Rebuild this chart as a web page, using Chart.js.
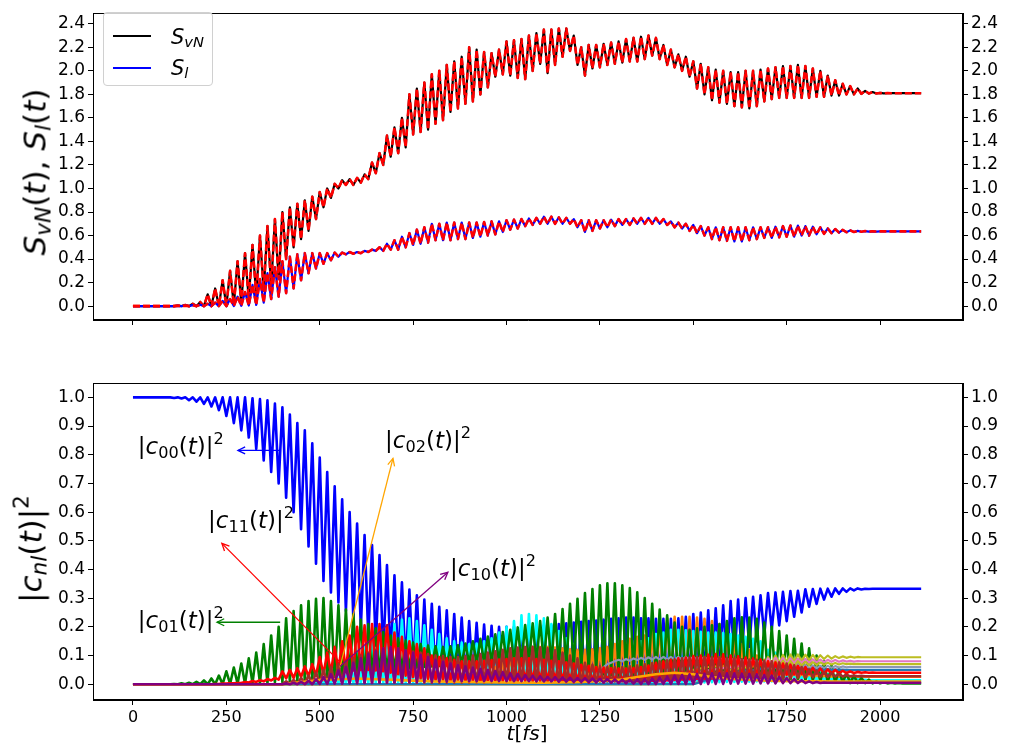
<!DOCTYPE html>
<html><head><meta charset="utf-8">
<script src="https://cdn.jsdelivr.net/npm/chart.js@4"></script>
<style>
body{margin:0;background:#fff;width:1009px;height:746px;overflow:hidden;position:relative;font-family:"DejaVu Sans";}
canvas{position:absolute;left:0;}
#c1{top:0;} #c2{top:340px;}
.tx{position:absolute;font-family:"DejaVu Sans";white-space:nowrap;line-height:1;color:#000;}
.tx sub{font-size:0.7em;vertical-align:-0.25em;line-height:0;}
.tx sup{font-size:0.7em;vertical-align:0.62em;line-height:0;}
.ytitle{font-size:31px;transform:translate(-50%,-50%) rotate(-90deg);}
.ann{font-size:23px;transform:translateY(-50%);}
#legend{position:absolute;left:103px;top:12px;width:108px;height:72px;border:1px solid #d0d0d0;border-radius:4px;background:rgba(255,255,255,0.8);}
.lg{position:absolute;left:9px;width:38px;height:2px;}
.lgt{position:absolute;left:67px;font-size:21px;transform:translateY(-50%);}
</style></head><body>
<canvas id="c1" width="1009" height="340"></canvas>
<canvas id="c2" width="1009" height="406"></canvas>
<div class="tx ytitle" style="left:35px;top:172px;"><i>S</i><sub><i>vN</i></sub>(<i>t</i>), <i>S</i><sub><i>l</i></sub>(<i>t</i>)</div>
<div class="tx ytitle" style="left:31px;top:549px;">|<i>c</i><sub><i>nl</i></sub>(<i>t</i>)|<sup>2</sup></div>
<div class="tx" style="left:527px;top:733px;font-size:20px;transform:translate(-50%,-50%);"><i>t</i>[<i>fs</i>]</div>
<div id="legend">
  <div class="lg" style="top:22px;background:#000;"></div>
  <div class="tx lgt" style="top:24px;"><i>S</i><sub><i>vN</i></sub></div>
  <div class="lg" style="top:54px;background:#0000ff;"></div>
  <div class="tx lgt" style="top:55px;"><i>S</i><sub><i>l</i></sub></div>
</div>
<div class="tx ann" id="a00">|<i>c</i><sub>00</sub>(<i>t</i>)|<sup>2</sup></div>
<div class="tx ann" id="a01">|<i>c</i><sub>01</sub>(<i>t</i>)|<sup>2</sup></div>
<div class="tx ann" id="a11">|<i>c</i><sub>11</sub>(<i>t</i>)|<sup>2</sup></div>
<div class="tx ann" id="a02">|<i>c</i><sub>02</sub>(<i>t</i>)|<sup>2</sup></div>
<div class="tx ann" id="a10">|<i>c</i><sub>10</sub>(<i>t</i>)|<sup>2</sup></div>
<script>
// ---------------- time grid (fs) ----------------
const T = [
0,10,20,30,40,50,60,70,80,90,
100,110,120,130,140,150,160,170,180,190,
200,210,220,230,240,250,260,270,280,290,
300,310,320,330,340,350,360,370,380,390,
400,410,420,430,440,450,460,470,480,490,
500,510,520,530,540,550,560,570,580,590,
600,610,620,630,640,650,660,670,680,690,
700,710,720,730,740,750,760,770,780,790,
800,810,820,830,840,850,860,870,880,890,
900,910,920,930,940,950,960,970,980,990,
1000,1010,1020,1030,1040,1050,1060,1070,1080,1090,
1100,1110,1120,1130,1140,1150,1160,1170,1180,1190,
1200,1210,1220,1230,1240,1250,1260,1270,1280,1290,
1300,1310,1320,1330,1340,1350,1360,1370,1380,1390,
1400,1410,1420,1430,1440,1450,1460,1470,1480,1490,
1500,1510,1520,1530,1540,1550,1560,1570,1580,1590,
1600,1610,1620,1630,1640,1650,1660,1670,1680,1690,
1700,1710,1720,1730,1740,1750,1760,1770,1780,1790,
1800,1810,1820,1830,1840,1850,1860,1870,1880,1890,
1900,1910,1920,1930,1940,1950,1960,1970,1980,1990,
2000,2010,2020,2030,2040,2050,2060,2070,2080,2090,
2100,2110];

const XTICKS = [0,250,500,750,1000,1250,1500,1750,2000];
const YTICKS_TOP = [0,0.2,0.4,0.6,0.8,1.0,1.2,1.4,1.6,1.8,2.0,2.2,2.4];
const YTICKS_BOT = [0,0.1,0.2,0.3,0.4,0.5,0.6,0.7,0.8,0.9,1.0];

// ---------------- top panel ----------------
const S_vN = [
0,0,0,0,0,0,0,0,0,0,
0,0,.005,0,.01,0,.02,0,.035,0,
.1,0,.15,0,.22,0,.3,.01,.38,.03,
.45,.06,.52,.09,.6,.13,.68,.17,.74,.23,
.8,.4,.84,.5,.87,.57,.9,.64,.93,.74,
.97,.84,1.0,.92,1.04,1.0,1.07,1.03,1.08,1.03,
1.09,1.05,1.12,1.08,1.22,1.13,1.3,1.2,1.45,1.27,
1.52,1.3,1.6,1.35,1.8,1.46,1.85,1.48,1.9,1.5,
1.97,1.55,2.0,1.58,2.05,1.65,2.08,1.68,2.12,1.72,
2.2,1.74,2.18,1.8,2.16,1.86,2.15,1.95,2.18,1.97,
2.25,1.96,2.26,1.94,2.27,1.93,2.3,2.0,2.32,2.06,
2.35,1.98,2.35,2.05,2.36,2.12,2.36,2.17,2.3,2.05,
2.2,1.96,2.22,2.02,2.22,2.03,2.23,2.05,2.24,2.06,
2.25,2.07,2.27,2.08,2.28,2.08,2.29,2.1,2.3,2.13,
2.28,2.1,2.22,2.05,2.18,2.03,2.14,2.0,2.12,1.95,
2.08,1.85,2.06,1.8,2.03,1.75,2.01,1.73,2.0,1.72,
1.99,1.7,1.99,1.69,2.0,1.68,2.0,1.7,2.01,1.74,
2.02,1.76,2.03,1.77,2.04,1.77,2.04,1.77,2.05,1.77,
2.04,1.77,2.02,1.78,2.0,1.78,1.96,1.79,1.92,1.79,
1.89,1.8,1.87,1.8,1.85,1.805,1.83,1.807,1.82,1.808,
1.812,1.809,1.811,1.81,1.81,1.81,1.81,1.81,1.81,1.81,
1.81,1.81];

const S_l = [
0,0,0,0,0,0,0,0,0,0,
0,0,.002,0,.004,0,.008,0,.012,0,
.02,0,.03,0,.045,0,.06,.001,.08,.003,
.12,.005,.18,.01,.23,.03,.28,.06,.33,.08,
.38,.11,.42,.15,.44,.22,.45,.28,.45,.32,
.45,.36,.45,.39,.455,.42,.455,.44,.46,.445,
.46,.45,.47,.46,.48,.47,.5,.47,.53,.48,
.56,.48,.59,.5,.62,.52,.65,.53,.67,.54,
.7,.56,.7,.56,.71,.56,.71,.57,.71,.57,
.71,.58,.71,.59,.715,.6,.72,.61,.72,.63,
.73,.65,.735,.66,.74,.68,.745,.69,.75,.7,
.76,.7,.76,.7,.755,.7,.75,.7,.74,.67,
.73,.63,.73,.64,.73,.66,.73,.67,.735,.68,
.74,.69,.74,.69,.745,.7,.75,.7,.75,.7,
.75,.7,.74,.69,.72,.67,.71,.66,.7,.64,
.69,.62,.68,.6,.67,.57,.67,.56,.67,.555,
.67,.55,.67,.55,.67,.56,.67,.57,.67,.58,
.67,.58,.675,.585,.68,.59,.685,.59,.685,.6,
.68,.6,.675,.61,.67,.615,.66,.62,.655,.625,
.648,.628,.644,.63,.64,.632,.638,.633,.636,.634,
.635,.635,.635,.635,.635,.635,.635,.635,.635,.635,
.635,.635];

// ---------------- bottom panel ----------------
const c00 = [
1,1,1,1,1,1,1,1,1,1,
1,.998,1,.996,1,.99,1,.985,1,.977,
1,.968,1,.955,1,.935,1,.91,1,.885,
1,.86,.997,.82,.994,.78,.99,.74,.978,.70,
.965,.65,.94,.60,.91,.54,.885,.48,.84,.42,
.79,.36,.74,.32,.69,.285,.645,.255,.60,.225,
.56,.195,.52,.165,.485,.135,.45,.11,.415,.09,
.38,.075,.355,.065,.33,.05,.31,.042,.295,.035,
.28,.03,.27,.028,.258,.026,.245,.024,.232,.022,
.22,.02,.214,.02,.208,.018,.204,.017,.2,.016,
.2,.015,.2,.015,.2,.015,.2,.015,.202,.015,
.205,.015,.205,.015,.21,.015,.212,.015,.215,.015,
.218,.015,.22,.015,.222,.015,.225,.015,.228,.015,
.23,.015,.232,.015,.232,.015,.23,.015,.23,.015,
.228,.015,.228,.015,.228,.015,.23,.015,.235,.02,
.245,.03,.25,.035,.258,.045,.265,.055,.275,.065,
.29,.08,.295,.1,.3,.13,.305,.15,.31,.17,
.318,.19,.32,.205,.322,.22,.325,.235,.326,.25,
.331,.27,.332,.28,.333,.295,.333,.305,.334,.315,
.334,.322,.334,.327,.334,.33,.333,.332,.333,.333,
.333,.333,.333,.333,.333,.333,.333,.333,.333,.333,
.333,.333];

const c01 = [
0,0,0,0,0,0,0,0,0,0,
0,.001,0,.003,0,.005,0,.008,0,.013,
0,.02,0,.03,0,.045,.001,.058,.002,.072,
.002,.09,.003,.11,.004,.14,.005,.17,.006,.2,
.007,.23,.008,.255,.009,.275,.01,.29,.01,.298,
.012,.3,.013,.29,.014,.275,.016,.26,.018,.245,
.02,.225,.025,.21,.03,.195,.035,.182,.04,.17,
.045,.16,.05,.152,.055,.145,.058,.14,.06,.135,
.062,.132,.064,.13,.066,.132,.068,.136,.07,.142,
.072,.15,.074,.158,.075,.166,.076,.174,.077,.182,
.078,.19,.078,.198,.078,.206,.077,.212,.076,.22,
.074,.232,.07,.245,.065,.262,.06,.28,.055,.298,
.05,.318,.045,.332,.04,.345,.035,.352,.032,.352,
.03,.345,.03,.335,.03,.32,.03,.3,.028,.28,
.026,.26,.024,.24,.022,.215,.02,.2,.018,.19,
.016,.195,.015,.2,.014,.205,.013,.21,.012,.22,
.012,.23,.012,.233,.011,.232,.011,.228,.01,.215,
.01,.2,.01,.185,.009,.17,.009,.158,.008,.142,
.008,.125,.007,.1,.006,.08,.006,.065,.005,.052,
.005,.04,.004,.03,.004,.022,.004,.016,.003,.01,
.003,.007,.003,.005,.003,.004,.003,.003,.003,.003,
.003,.003];

const c11 = [
0,0,0,0,0,0,0,0,0,0,
0,0,0,0,0,0,0,0,0,0,
0,0,.001,.001,.002,.002,.003,.003,.004,.004,
.008,.006,.011,.008,.014,.01,.018,.013,.022,.016,
.045,.02,.05,.022,.056,.025,.062,.028,.07,.03,
.095,.035,.11,.04,.13,.043,.15,.046,.17,.048,
.2,.05,.205,.05,.21,.048,.21,.045,.205,.04,
.18,.035,.165,.03,.15,.025,.14,.02,.125,.018,
.1,.015,.095,.013,.09,.012,.085,.011,.08,.01,
.08,.01,.08,.01,.082,.01,.084,.01,.086,.01,
.088,.01,.09,.01,.09,.01,.09,.01,.088,.01,
.085,.01,.082,.01,.08,.01,.076,.01,.072,.01,
.068,.01,.064,.01,.06,.01,.058,.01,.056,.01,
.055,.01,.055,.01,.057,.01,.06,.01,.065,.012,
.075,.013,.08,.014,.085,.015,.09,.016,.093,.017,
.098,.018,.1,.019,.103,.02,.105,.021,.104,.022,
.1,.024,.097,.026,.093,.028,.09,.029,.086,.03,
.08,.031,.076,.032,.072,.033,.068,.034,.064,.035,
.06,.036,.057,.037,.055,.037,.052,.038,.05,.038,
.047,.039,.045,.039,.043,.04,.042,.04,.041,.04,
.04,.04,.04,.04,.04,.04,.04,.04,.04,.04,
.04,.04];

// starts at t = 400
const brown = [
0,.01,.002,.015,.003,.022,.004,.03,.004,.04,
.005,.05,.005,.06,.005,.07,.005,.08,.005,.09,
.005,.1,.005,.11,.005,.12,.005,.125,.005,.125,
.005,.12,.005,.118,.005,.114,.005,.11,.005,.105,
.005,.1,.005,.098,.005,.095,.005,.095,.005,.097,
.005,.1,.005,.105,.005,.11,.005,.115,.005,.12,
.005,.125,.005,.128,.005,.13,.005,.13,.005,.128,
.005,.125,.005,.118,.005,.11,.005,.1,.005,.09,
.005,.075,.005,.068,.005,.062,.005,.06,.005,.06,
.005,.06,.005,.063,.005,.066,.005,.07,.005,.074,
.006,.08,.006,.083,.007,.087,.007,.09,.008,.093,
.009,.095,.01,.095,.011,.095,.012,.094,.013,.092,
.014,.09,.015,.088,.016,.086,.017,.085,.018,.082,
.019,.08,.02,.076,.021,.072,.022,.066,.023,.06,
.024,.052,.025,.047,.026,.042,.026,.038,.027,.035,
.027,.032,.028,.03,.028,.029,.028,.028,.028,.028];

// starts at t = 400
const cyan = [
0,0,.002,0,.004,0,.006,0,.01,0,
.02,.001,.035,.001,.05,.002,.07,.002,.09,.003,
.11,.003,.13,.003,.15,.004,.17,.004,.19,.005,
.21,.005,.225,.005,.23,.005,.22,.005,.205,.005,
.19,.005,.175,.005,.16,.005,.15,.005,.145,.005,
.14,.005,.142,.005,.15,.005,.16,.005,.18,.005,
.2,.005,.22,.005,.24,.005,.245,.005,.24,.005,
.23,.005,.21,.005,.185,.005,.16,.005,.14,.005,
.12,.005,.11,.005,.1,.005,.1,.005,.105,.005,
.115,.005,.125,.005,.135,.005,.15,.005,.16,.005,
.175,.005,.18,.005,.19,.005,.19,.005,.188,.005,
.185,.006,.183,.006,.18,.007,.18,.007,.178,.008,
.175,.008,.17,.009,.165,.009,.158,.01,.15,.01,
.12,.01,.11,.011,.1,.011,.09,.012,.08,.012,
.06,.012,.05,.013,.042,.013,.035,.013,.03,.014,
.022,.014,.019,.014,.017,.014,.015,.014,.014,.014];

// starts at t = 900
const tabOrange = [
0,.01,.002,.025,.003,.04,.004,.06,.005,.08,
.005,.1,.005,.115,.005,.125,.005,.13,.005,.13,
.005,.13,.005,.128,.005,.125,.005,.122,.005,.12,
.005,.12,.005,.122,.005,.125,.005,.13,.005,.14,
.005,.15,.005,.158,.005,.165,.005,.17,.005,.185,
.005,.21,.005,.23,.005,.235,.005,.235,.005,.235,
.006,.232,.007,.228,.008,.22,.009,.21,.01,.19,
.011,.165,.012,.14,.013,.12,.014,.1,.015,.085,
.016,.07,.017,.06,.018,.052,.019,.045,.02,.04,
.021,.036,.022,.032,.023,.03,.024,.028,.025,.026];

// starts at t = 400
const c10 = [
0,.003,0,.005,0,.008,0,.012,0,.017,
.001,.025,.001,.035,.002,.048,.002,.06,.003,.075,
.003,.09,.004,.105,.004,.115,.005,.125,.005,.13,
.006,.125,.006,.118,.007,.11,.007,.102,.008,.095,
.008,.085,.009,.078,.009,.072,.01,.066,.01,.062,
.01,.058,.01,.054,.011,.05,.011,.046,.011,.042,
.011,.038,.011,.035,.011,.032,.011,.03,.01,.028,
.01,.026,.01,.025,.009,.024,.009,.023,.008,.022,
.008,.021,.007,.02,.007,.019,.006,.018,.005,.017,
.004,.016,.003,.016,.002,.017,.001,.018,.001,.02,
.001,.024,.001,.027,.001,.03,.001,.032,.001,.034,
.001,.036,.001,.037,.001,.038,.001,.038,.001,.038,
.002,.038,.002,.037,.002,.036,.002,.034,.003,.032,
.003,.03,.003,.026,.004,.022,.004,.018,.004,.014,
.004,.01,.004,.008,.004,.006,.005,.005,.005,.005];

// starts at t = 1400
const olive = [
0,.005,.01,.015,.02,.025,.03,.035,.04,.045,
.05,.052,.055,.057,.06,.06,.062,.062,.064,.064,
.066,.055,.07,.058,.072,.06,.075,.063,.08,.066,
.095,.072,.1,.075,.102,.078,.104,.08,.104,.082,
.103,.084,.102,.086,.101,.088,.1,.089,.098,.091,
.097,.092,.096,.093,.095,.094];

// starts at t = 1400
const pink = [
0,.004,.008,.012,.016,.02,.024,.028,.032,.036,
.04,.042,.044,.046,.048,.05,.052,.054,.056,.058,
.06,.05,.064,.054,.068,.058,.072,.062,.076,.064,
.09,.068,.092,.07,.091,.072,.09,.073,.089,.074,
.088,.075,.087,.076,.086,.077,.085,.078,.084,.078,
.083,.079,.082,.079,.081,.08,.08];

// starts at t = 1200
const gray = [
0,.01,.02,.03,.04,.05,.06,.07,.075,.08,
.085,.08,.088,.082,.09,.084,.092,.085,.094,.086,
.095,.086,.095,.086,.095,.086,.095,.086,.095,.086,
.095,.086,.094,.086,.093,.085,.092,.084,.091,.083,
.09,.082,.088,.08,.086,.078,.084,.075,.082,.072,
.08,.068,.078,.065,.075,.062,.072,.058,.07,.056,
.068,.055,.066,.055,.065,.056,.064,.057,.063,.058,
.062,.059,.061,.06,.06];

// starts at t = 1500
const olive2 = [
0,.005,.01,.015,.02,.025,.03,.035,.04,.045,
.05,.045,.055,.05,.06,.052,.065,.055,.07,.056,
.08,.058,.082,.06,.082,.062,.081,.064,.08,.065,
.078,.066,.077,.067,.076,.068,.075,.069,.074,.069,
.073,.07,.072,.07,.071,.07,.07];

// starts at t = 1500
const tabBlue = [
0,.004,.008,.012,.016,.02,.024,.028,.032,.036,
.04,.035,.045,.038,.048,.04,.05,.042,.055,.043,
.06,.044,.06,.045,.059,.046,.058,.047,.057,.047,
.056,.048,.055,.048,.054,.049,.053,.049,.052,.05,
.051,.05,.05];

const c02_t = [0,400,500,600,700,800,900,1000,1100,1200,1300,1350,1400,1450,1500,1550,1600,1700,1800,1900,2110];
const c02_v = [0,0,.015,.02,.015,.01,.008,.006,.005,.008,.015,.025,.035,.04,.035,.025,.018,.012,.01,.009,.009];

// ---------------- helpers ----------------
function pts(start, vals){
  const i0 = T.indexOf(start), out = [];
  if (start > T[0]) out.push({x:T[0], y:vals[0]});
  vals.forEach((v,i)=>out.push({x:T[i0+i], y:v}));
  const last = T[i0+vals.length-1];
  if (last < T[T.length-1]) out.push({x:T[T.length-1], y:vals[vals.length-1]});
  return out;
}
function ln(data,color,w,extra){
  return Object.assign({data,borderColor:color,backgroundColor:color,borderWidth:w,pointRadius:0,tension:0,fill:false,borderJoinStyle:'round',borderCapStyle:'butt'},extra||{});
}
const FONT = {family:'DejaVu Sans', size:17};
function yAxis(pos,min,max,ticks,w){
  return {type:'linear',position:pos,min,max,
    afterBuildTicks:s=>{s.ticks=ticks.map(v=>({value:v}));},
    afterFit:s=>{s.width=w;},
    grid:{display:true,drawOnChartArea:false,drawTicks:true,tickLength:5,tickWidth:1,tickColor:'#000'},
    border:{display:true,color:'#000',width:1},
    ticks:{color:'#000',font:FONT,padding:3,autoSkip:false,callback:v=>Number(v).toFixed(1)}};
}
function opts(ymin,ymax,yticks,xh,padTop,showX){
  return {responsive:false,animation:false,devicePixelRatio:1,events:[],
    layout:{padding:{top:padTop,left:0,right:0,bottom:0}},
    plugins:{legend:{display:false},tooltip:{enabled:false}},
    scales:{
      x:{type:'linear',position:'bottom',min:-107,max:2222,
        afterBuildTicks:s=>{s.ticks=XTICKS.map(v=>({value:v}));},
        afterFit:s=>{s.height=xh;},
        grid:{display:true,drawOnChartArea:false,drawTicks:true,tickLength:5,tickWidth:1,tickColor:'#000'},
        border:{display:true,color:'#000',width:1},
        ticks:{color:'#000',font:{family:'DejaVu Sans',size:16},padding:3,maxRotation:0,autoSkip:false,
          callback:v=>showX?String(v):''}},
      y:yAxis('left',ymin,ymax,yticks,93),
      y2:yAxis('right',ymin,ymax,yticks,46)
    }};
}
const frame = {id:'frame',afterDraw(c){
  const a=c.chartArea,ctx=c.ctx;ctx.save();ctx.strokeStyle='#000';ctx.lineWidth=1;
  ctx.strokeRect(Math.round(a.left)+0.5,Math.round(a.top)+0.5,Math.round(a.right-a.left)-1,Math.round(a.bottom-a.top)-1);
  ctx.restore();}};

// ---------------- top chart ----------------
const dash = {borderDash:[7,3]};
new Chart(document.getElementById('c1'),{type:'line',
  data:{datasets:[
    ln(pts(0,S_l),'#ff0000',2.6,dash),
    ln(pts(0,S_l),'#0000ff',2.2),
    ln(pts(0,S_vN),'#ff0000',2.6,dash),
    ln(pts(0,S_vN),'#000000',2.2)
  ]},
  options:opts(-0.118,2.49,YTICKS_TOP,20,5,false),
  plugins:[frame]});

// ---------------- bottom chart ----------------
const ARROWS = [
  {c:'#0000ff', from:[394,0.815], to:[281,0.815]},
  {c:'#008000', from:[394,0.216], to:[225,0.216]},
  {c:'#ff0000', from:[560,0.07],  to:[238,0.491]},
  {c:'#ffa500', from:[554,0.059], to:[696,0.787]},
  {c:'#800080', from:[554,0.062], to:[843,0.39]}
];
const LABELS = [
  {id:'a00', t:13,  v:0.829},
  {id:'a01', t:13,  v:0.223},
  {id:'a11', t:201, v:0.571},
  {id:'a02', t:675, v:0.85},
  {id:'a10', t:849, v:0.404}
];
const arrowPlug = {id:'arrows',afterDatasetsDraw(c){
  const xs=c.scales.x,ys=c.scales.y,ctx=c.ctx;ctx.save();ctx.lineWidth=1.3;
  ARROWS.forEach(a=>{
    const x1=xs.getPixelForValue(a.from[0]),y1=ys.getPixelForValue(a.from[1]);
    const x2=xs.getPixelForValue(a.to[0]),y2=ys.getPixelForValue(a.to[1]);
    const ang=Math.atan2(y2-y1,x2-x1),L=8,W=0.45;
    ctx.strokeStyle=a.c;ctx.beginPath();ctx.moveTo(x1,y1);ctx.lineTo(x2,y2);ctx.stroke();
    ctx.beginPath();
    ctx.moveTo(x2-L*Math.cos(ang-W),y2-L*Math.sin(ang-W));
    ctx.lineTo(x2,y2);
    ctx.lineTo(x2-L*Math.cos(ang+W),y2-L*Math.sin(ang+W));
    ctx.stroke();
  });
  ctx.restore();}};

const ch2 = new Chart(document.getElementById('c2'),{type:'line',
  data:{datasets:[
    ln(pts(400,c10),'#800080',2.6),
    ln(c02_t.map((t,i)=>({x:t,y:c02_v[i]})),'#ffa500',2.6),
    ln(pts(400,brown),'#a52a2a',2.6),
    ln(pts(0,c11),'#ff0000',2.6),
    ln(pts(1500,tabBlue),'#1f77b4',2.2),
    ln(pts(1500,olive2),'#bcbd22',2.2),
    ln(pts(1400,pink),'#e377c2',2.2),
    ln(pts(1400,olive),'#bcbd22',2.2),
    ln(pts(1200,gray),'#8c96b4',2.2),
    ln(pts(0,c01),'#008000',2.6),
    ln(pts(900,tabOrange),'#ff7f0e',2.6),
    ln(pts(400,cyan),'#00ffff',2.6),
    ln(pts(0,c00),'#0000ff',2.6)
  ]},
  options:opts(-0.055,1.05,YTICKS_BOT,46,43,true),
  plugins:[frame,arrowPlug]});

LABELS.forEach(l=>{
  const el=document.getElementById(l.id);
  el.style.left=ch2.scales.x.getPixelForValue(l.t)+'px';
  el.style.top=(340+ch2.scales.y.getPixelForValue(l.v))+'px';
});
</script>
</body></html>
